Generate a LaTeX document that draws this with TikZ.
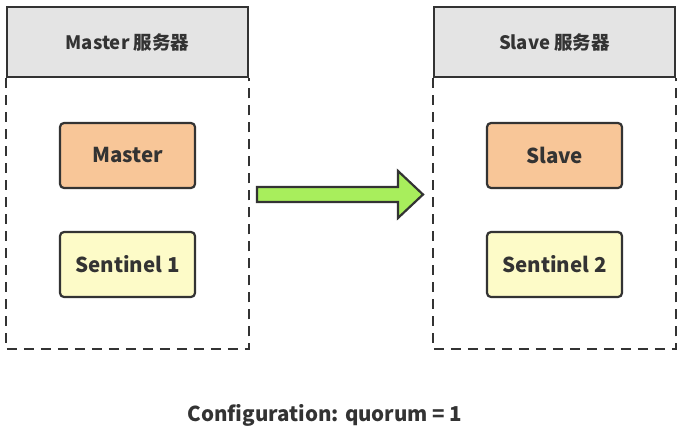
\documentclass[tikz,border=0pt]{standalone}
\usepackage{fontspec}
\setmainfont{Noto Sans CJK SC}
\definecolor{edge}{HTML}{333333}
\definecolor{hdrfill}{HTML}{E4E4E4}
\definecolor{mfill}{HTML}{F8C698}
\definecolor{sfill}{HTML}{FDFBC8}
\definecolor{afill}{HTML}{A8EE5C}
\begin{document}
\begin{tikzpicture}[x=1pt,y=-1pt,
  header/.style={draw=edge,fill=hdrfill,line width=2.2pt,minimum width=241pt,minimum height=70pt,inner sep=0pt,font=\fontsize{18.5}{21}\selectfont\bfseries,text=edge},
  body/.style={draw=edge,line width=2.2pt,dash pattern=on 10pt off 7pt},
  rolebox/.style={draw=edge,line width=2.2pt,rounded corners=4pt,minimum width=135pt,minimum height=65pt,inner sep=0pt,font=\fontsize{20.5}{24}\selectfont\bfseries,text=edge},
  master/.style={rolebox,fill=mfill},
  sentinel/.style={rolebox,fill=sfill}]
\useasboundingbox (0,0) rectangle (685,439);
\fill[white] (0,0) rectangle (685,439);
% left server
\node[header] (lh) at (127.5,42) {Master 服务器};
\draw[body] (lh.south west) -- ++(0,271) coordinate (lbl) -- (lbl -| lh.south east) coordinate (lbr) -- (lh.south east);
\node[master] (m) at (127.5,155.5) {Master};
\node[sentinel] (s1) at (127.5,264.5) {Sentinel 1};
% right server
\node[header] (rh) at (554.5,42) {Slave 服务器};
\draw[body] (rh.south west) -- ++(0,271) coordinate (rbl) -- (rbl -| rh.south east) coordinate (rbr) -- (rh.south east);
\node[master] (sl) at (554.5,155.5) {Slave};
\node[sentinel] (s2) at (554.5,264.5) {Sentinel 2};
% arrow
\draw[draw=edge,fill=afill,line width=2.2pt,line join=miter]
  (257,187) -- (398,187) -- (398,171) -- (423,194.5) -- (398,218) -- (398,202) -- (257,202) -- cycle;
% caption
\node[font=\fontsize{20.5}{24}\selectfont\bfseries,text=edge] (cap) at (325,415) {Configuration: quorum = 1};
\end{tikzpicture}
\end{document}
